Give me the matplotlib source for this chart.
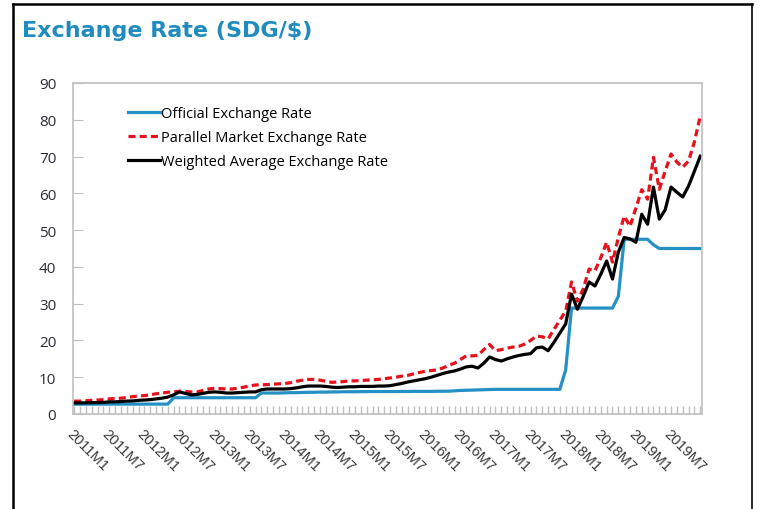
import matplotlib.pyplot as plt
from matplotlib.lines import Line2D

# Monthly data, 2011M1 .. 2019M12
months = [f"{y}M{m}" for y in range(2011, 2020) for m in range(1, 13)]

official = [
    2.67, 2.67, 2.67, 2.67, 2.67, 2.67, 2.68, 2.68, 2.68, 2.68, 2.68, 2.68,
    2.69, 2.69, 2.69, 2.69, 2.69, 4.42, 4.42, 4.42, 4.42, 4.42, 4.42, 4.42,
    4.42, 4.42, 4.42, 4.42, 4.42, 4.42, 4.42, 4.42, 5.70, 5.70, 5.70, 5.70,
    5.75, 5.80, 5.80, 5.85, 5.90, 5.90, 5.95, 5.95, 6.00, 6.00, 6.05, 6.05,
    6.05, 6.08, 6.08, 6.10, 6.10, 6.10, 6.10, 6.12, 6.12, 6.12, 6.15, 6.15,
    6.15, 6.15, 6.18, 6.18, 6.20, 6.30, 6.40, 6.45, 6.50, 6.55, 6.60, 6.65,
    6.70, 6.70, 6.70, 6.70, 6.70, 6.70, 6.70, 6.70, 6.70, 6.70, 6.70, 6.70,
    12.0, 28.8, 28.8, 28.8, 28.8, 28.8, 28.8, 28.8, 28.8, 32.0, 47.5, 47.5,
    47.5, 47.5, 47.5, 46.0, 45.0, 45.0, 45.0, 45.0, 45.0, 45.0, 45.0, 45.0,
]

parallel = [
    3.5, 3.5, 3.6, 3.7, 3.8, 3.9, 4.1, 4.2, 4.3, 4.5, 4.7, 4.9,
    5.0, 5.2, 5.5, 5.7, 5.9, 6.0, 6.2, 6.1, 6.0, 6.0, 6.4, 6.8,
    7.0, 6.9, 6.8, 6.8, 7.0, 7.3, 7.6, 7.9, 7.9, 8.0, 8.1, 8.2,
    8.3, 8.5, 8.9, 9.2, 9.4, 9.4, 9.2, 8.9, 8.6, 8.7, 8.8, 9.0,
    9.0, 9.1, 9.2, 9.3, 9.4, 9.6, 9.8, 10.0, 10.3, 10.5, 10.9, 11.3,
    11.6, 11.8, 12.0, 12.5, 13.2, 13.8, 14.8, 15.8, 15.8, 15.9, 17.5, 18.9,
    17.2, 17.5, 17.9, 18.2, 18.4, 19.0, 20.0, 21.2, 21.0, 20.4, 23.0, 25.5,
    28.0, 35.9, 30.7, 34.0, 39.4, 38.9, 42.5, 46.7, 41.3, 48.0, 53.8, 51.0,
    56.0, 61.0, 58.4, 69.8, 61.1, 66.0, 70.7, 68.5, 67.1, 68.8, 74.0, 81.0,
]

weighted = [
    3.0, 3.0, 3.05, 3.1, 3.1, 3.15, 3.3, 3.3, 3.4, 3.5, 3.55, 3.7,
    3.8, 3.9, 4.1, 4.3, 4.6, 5.2, 6.0, 5.6, 5.2, 5.3, 5.6, 5.9,
    6.0, 5.9, 5.7, 5.7, 5.8, 5.9, 6.0, 6.0, 6.6, 6.8, 6.8, 6.8,
    6.8, 6.9, 7.1, 7.4, 7.6, 7.6, 7.6, 7.5, 7.3, 7.2, 7.3, 7.4,
    7.4, 7.5, 7.5, 7.5, 7.6, 7.6, 7.7, 8.0, 8.3, 8.7, 9.0, 9.3,
    9.6, 10.0, 10.5, 11.0, 11.4, 11.7, 12.2, 12.8, 13.0, 12.5, 13.8, 15.5,
    14.8, 14.4, 15.0, 15.5, 15.9, 16.2, 16.4, 18.0, 18.2, 17.2, 19.5, 22.0,
    24.5, 32.6, 28.5, 32.0, 35.9, 34.8, 38.0, 41.6, 36.7, 44.0, 48.0, 47.6,
    46.7, 54.3, 51.6, 61.7, 53.0, 55.5, 61.7, 60.3, 59.0, 62.0, 66.0, 70.1,
]

series_names = ['Official Exchange Rate', 'Parallel Market Exchange Rate',
                'Weighted Average Exchange Rate']

plt.rcParams['font.family'] = ['Open Sans', 'DejaVu Sans']

fig = plt.figure(figsize=(7.61, 5.10), dpi=100)
ax = fig.add_axes([0.0959, 0.1863, 0.9225 - 0.0959, 0.8353 - 0.1863])

x = list(range(len(months)))
ax.plot(x, official, color='#2490C4', lw=2.3, label=series_names[0])
ax.plot(x, parallel, color='#E8101A', lw=2.3, ls=(0, (2.2, 1.3)), label=series_names[1])
ax.plot(x, weighted, color='black', lw=2.3, label=series_names[2])

ax.set_xlim(-0.2, 107.3)
ax.set_ylim(0, 90)
ax.set_yticks(range(0, 91, 10))
ax.set_xticks(x[::6])
ax.set_xticklabels(months[::6], rotation=-45, ha='left', va='top',
                   rotation_mode='anchor', fontsize=10.5, color='#3A3A3A',
                   family='Liberation Sans')
ax.set_xticks(x, minor=True)

for s in ax.spines.values():
    s.set_color('#BFBFBF')
    s.set_linewidth(1.2)
ax.tick_params(axis='y', direction='in', length=7, color='#BFBFBF',
               labelsize=11, labelcolor='#2B2B3B', pad=12)
ax.tick_params(axis='x', which='both', direction='in', length=6,
               color='#BFBFBF', width=1, pad=9)

ax.legend(loc='upper left', bbox_to_anchor=(0.087, 0.93), frameon=False,
          fontsize=10.5, handlelength=2.2, handletextpad=0.05, labelspacing=0.62,
          borderaxespad=0, borderpad=0)

fig.text(0.029, 0.939, 'Exchange Rate (SDG/$)', fontsize=16, fontweight='bold',
         color='#1F8BBF', va='center', ha='left', family='DejaVu Sans')

# outer frame lines
fig.add_artist(Line2D([0.0165, 0.0165], [0, 0.990], color='black', lw=1.8,
                      transform=fig.transFigure))
fig.add_artist(Line2D([0.0165, 0.988], [0.990, 0.990], color='black', lw=1.8,
                      transform=fig.transFigure))
fig.add_artist(Line2D([0.988, 0.988], [0, 0.990], color='black', lw=1.2,
                      transform=fig.transFigure))

fig.savefig('out.png', dpi=100)
